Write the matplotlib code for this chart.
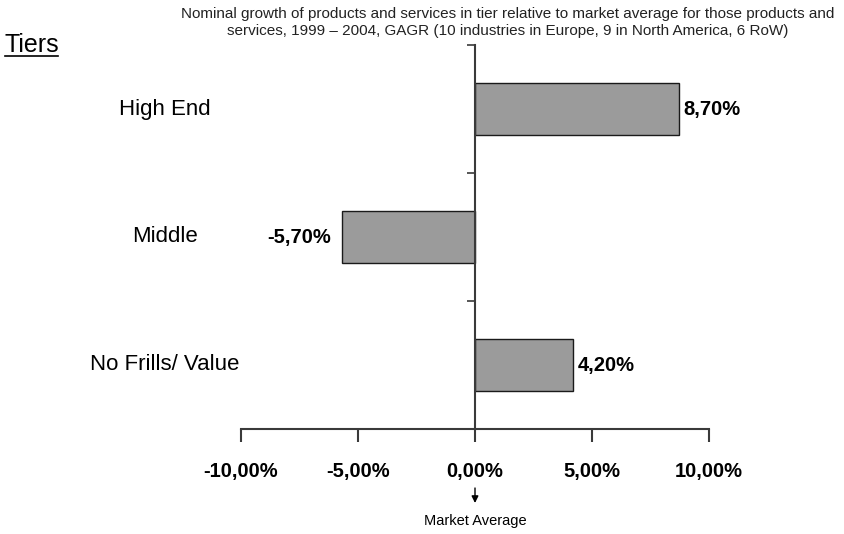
import matplotlib
matplotlib.use("Agg")
import matplotlib.pyplot as plt
from matplotlib.ticker import FuncFormatter, FixedLocator
from matplotlib.lines import Line2D

matplotlib.rcParams['font.family'] = ['Liberation Sans', 'DejaVu Sans']

tiers = ["High End", "Middle", "No Frills/ Value"]
growth = [8.7, -5.7, 4.2]
x_ticks = [-10, -5, 0, 5, 10]
title = ("Nominal growth of products and services in tier relative to market average for those products and\n"
         "services, 1999 \u2013 2004, GAGR (10 industries in Europe, 9 in North America, 6 RoW)")

AXIS = "#3a3a3a"
BAR = "#9b9b9b"


def pct(v, pos=None):
    return ("%.2f%%" % v).replace(".", ",")


fig = plt.figure(figsize=(8.45, 5.34), dpi=100)
ax = fig.add_axes([241 / 845, 1 - 429 / 534, 468 / 845, 384 / 534])

pos = [2 - i for i in range(len(tiers))]
ax.barh(pos, growth, height=0.4, color=BAR, edgecolor="#1a1a1a", linewidth=1.0, zorder=2)

for p, v in zip(pos, growth):
    if v >= 0:
        ax.text(v + 0.2, p, pct(v), ha="left", va="center", fontsize=14.5, fontweight="bold")
    else:
        ax.text(v - 0.45, p, pct(v), ha="right", va="center", fontsize=14.5, fontweight="bold")

ax.set_xlim(-10, 10)
ax.set_ylim(-0.5, 2.5)
ax.xaxis.set_major_locator(FixedLocator(x_ticks))
ax.xaxis.set_major_formatter(FuncFormatter(pct))
ax.yaxis.set_major_locator(FixedLocator([0.5, 1.5, 2.5]))
ax.set_yticklabels([])

for s in ["top", "right"]:
    ax.spines[s].set_visible(False)
ax.spines["left"].set_position(("data", 0))
ax.spines["left"].set_color(AXIS)
ax.spines["left"].set_linewidth(1.5)
ax.spines["bottom"].set_color(AXIS)
ax.spines["bottom"].set_linewidth(1.5)
ax.tick_params(axis="x", direction="out", length=9, width=1.5, color=AXIS, pad=15, labelsize=14.5)
ax.tick_params(axis="y", direction="out", length=6, width=1.2, color=AXIS)
for lab in ax.get_xticklabels():
    lab.set_fontweight("bold")

# category labels on the left
for p, t in zip(pos, tiers):
    fig.text(165 / 845, ax.transData.transform((0, p))[1] / fig.bbox.height, t,
             ha="center", va="center", fontsize=16)

fig.text(5 / 845, 1 - 45 / 534, "Tiers", ha="left", va="center", fontsize=18)
fig.add_artist(Line2D([5 / 845, 58 / 845], [1 - 56 / 534, 1 - 56 / 534], color="black", linewidth=1.2))

fig.text(508 / 845, 1 - 22.5 / 534, title, ha="center", va="center", fontsize=11,
         linespacing=1.3, color="#222222")

ax.annotate("", xy=(0, -0.5 - 74 / 128), xycoords="data",
            xytext=(0, -0.5 - 59 / 128), textcoords="data",
            arrowprops=dict(arrowstyle="-|>", color="black", lw=1, mutation_scale=10,
                            shrinkA=0, shrinkB=0),
            annotation_clip=False)
fig.text(475 / 845, 1 - 521 / 534, "Market Average", ha="center", va="center", fontsize=10.5)

fig.savefig("out.png", dpi=100, facecolor="white")
